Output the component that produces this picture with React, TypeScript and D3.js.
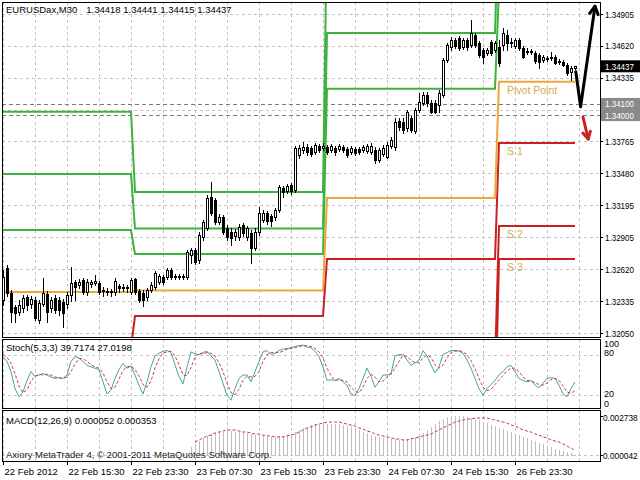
import React from "react";
import * as d3 from "d3";

const TITLE_SYMBOL = "EURUSDax,M30";
const TITLE_PRICES = "1.34418 1.34441 1.34415 1.34437";
const STOCH_TITLE = "Stoch(5,3,3) 39.7174 27.0198";
const MACD_TITLE = "MACD(12,26,9) 0.000052 0.000353";
const COPYRIGHT = "Axiory MetaTrader 4, \u00a9 2001-2011 MetaQuotes Software Corp.";

const OPEN = [1.32345,1.32631,1.32408,1.32283,1.32238,1.32274,1.32372,1.32309,1.32345,1.32166,1.32309,1.32399,1.32274,1.32363,1.32345,1.32327,1.32309,1.32390,1.32506,1.32479,1.32524,1.32417,1.32488,1.32497,1.32497,1.32435,1.32426,1.32426,1.32417,1.32470,1.32461,1.32454,1.32417,1.32533,1.32426,1.32408,1.32372,1.32435,1.32461,1.32506,1.32551,1.32551,1.32614,1.32560,1.32560,1.32551,1.32551,1.32748,1.32793,1.32703,1.32909,1.32989,1.33267,1.33240,1.33043,1.33088,1.32989,1.32954,1.32918,1.32909,1.33016,1.32909,1.32945,1.32810,1.32954,1.33061,1.33124,1.33097,1.33088,1.33151,1.33347,1.33321,1.33374,1.33330,1.33643,1.33688,1.33714,1.33705,1.33670,1.33723,1.33705,1.33714,1.33688,1.33705,1.33696,1.33714,1.33696,1.33670,1.33696,1.33696,1.33688,1.33679,1.33670,1.33688,1.33598,1.33652,1.33625,1.33723,1.33714,1.33947,1.33938,1.33884,1.33974,1.33858,1.34046,1.34108,1.34180,1.34108,1.34108,1.34090,1.34180,1.34493,1.34609,1.34672,1.34690,1.34609,1.34672,1.34627,1.34717,1.34645,1.34583,1.34556,1.34654,1.34583,1.34609,1.34627,1.34717,1.34645,1.34618,1.34672,1.34600,1.34574,1.34565,1.34556,1.34538,1.34493,1.34511,1.34520,1.34520,1.34484,1.34475,1.34448,1.34386,1.34418];
const HIGH = [1.32614,1.32658,1.32435,1.32300,1.32345,1.32390,1.32390,1.32381,1.32372,1.32345,1.32542,1.32426,1.32372,1.32390,1.32372,1.32354,1.32417,1.32640,1.32524,1.32533,1.32542,1.32533,1.32524,1.32569,1.32515,1.32461,1.32454,1.32444,1.32542,1.32488,1.32488,1.32479,1.32542,1.32542,1.32444,1.32435,1.32454,1.32506,1.32605,1.32578,1.32569,1.32631,1.32631,1.32578,1.32578,1.32578,1.32793,1.32810,1.32810,1.32954,1.33061,1.33285,1.33401,1.33258,1.33115,1.33106,1.33016,1.32989,1.32980,1.33025,1.33034,1.33007,1.32972,1.32989,1.33177,1.33151,1.33141,1.33115,1.33168,1.33374,1.33365,1.33383,1.33392,1.33723,1.33732,1.33759,1.33741,1.33723,1.33750,1.33741,1.33750,1.33732,1.33741,1.33723,1.33741,1.33732,1.33714,1.33723,1.33714,1.33714,1.33732,1.33741,1.33750,1.33714,1.33705,1.33732,1.33759,1.33804,1.33974,1.33974,1.33974,1.34046,1.33992,1.34063,1.34198,1.34207,1.34207,1.34135,1.34135,1.34225,1.34511,1.34645,1.34699,1.34690,1.34708,1.34690,1.34690,1.34851,1.34735,1.34663,1.34600,1.34600,1.34672,1.34663,1.34672,1.34779,1.34762,1.34690,1.34690,1.34690,1.34618,1.34600,1.34591,1.34574,1.34556,1.34538,1.34529,1.34565,1.34538,1.34502,1.34493,1.34466,1.34439,1.34441];
const LOW = [1.32300,1.32381,1.32148,1.32148,1.32211,1.32238,1.32256,1.32274,1.32166,1.32139,1.32291,1.32148,1.32238,1.32229,1.32211,1.32103,1.32274,1.32336,1.32345,1.32454,1.32399,1.32390,1.32461,1.32479,1.32399,1.32381,1.32390,1.32381,1.32390,1.32417,1.32426,1.32417,1.32399,1.32399,1.32327,1.32291,1.32345,1.32417,1.32444,1.32488,1.32488,1.32533,1.32533,1.32533,1.32533,1.32533,1.32533,1.32676,1.32667,1.32676,1.32882,1.32972,1.33106,1.33025,1.33025,1.32936,1.32882,1.32837,1.32882,1.32882,1.32918,1.32882,1.32676,1.32793,1.32927,1.33043,1.33025,1.33007,1.33061,1.33132,1.33267,1.33303,1.33294,1.33312,1.33616,1.33661,1.33643,1.33634,1.33652,1.33670,1.33688,1.33652,1.33670,1.33643,1.33679,1.33670,1.33625,1.33652,1.33643,1.33652,1.33670,1.33661,1.33652,1.33571,1.33580,1.33634,1.33616,1.33705,1.33688,1.33867,1.33840,1.33858,1.33849,1.33840,1.34028,1.34090,1.34081,1.34019,1.34019,1.34028,1.34162,1.34475,1.34583,1.34600,1.34583,1.34591,1.34583,1.34609,1.34609,1.34520,1.34466,1.34538,1.34538,1.34565,1.34439,1.34583,1.34583,1.34609,1.34600,1.34583,1.34511,1.34547,1.34547,1.34466,1.34421,1.34475,1.34484,1.34493,1.34457,1.34457,1.34439,1.34359,1.34314,1.34415];
const CLOSE = [1.32551,1.32408,1.32238,1.32229,1.32300,1.32363,1.32300,1.32354,1.32184,1.32318,1.32408,1.32238,1.32345,1.32256,1.32256,1.32229,1.32390,1.32497,1.32461,1.32506,1.32417,1.32506,1.32506,1.32515,1.32417,1.32426,1.32417,1.32417,1.32515,1.32454,1.32454,1.32461,1.32524,1.32417,1.32345,1.32345,1.32435,1.32479,1.32587,1.32560,1.32506,1.32614,1.32551,1.32551,1.32551,1.32560,1.32775,1.32793,1.32685,1.32927,1.33043,1.33258,1.33124,1.33043,1.33088,1.32954,1.32909,1.32900,1.32954,1.32998,1.32945,1.32989,1.32810,1.32954,1.33124,1.33124,1.33052,1.33052,1.33151,1.33356,1.33312,1.33365,1.33321,1.33705,1.33705,1.33714,1.33670,1.33652,1.33732,1.33688,1.33723,1.33670,1.33723,1.33670,1.33723,1.33688,1.33643,1.33705,1.33661,1.33670,1.33714,1.33723,1.33723,1.33598,1.33688,1.33705,1.33732,1.33777,1.33938,1.33893,1.33867,1.34028,1.33867,1.34046,1.34117,1.34180,1.34108,1.34028,1.34028,1.34198,1.34493,1.34627,1.34672,1.34618,1.34600,1.34672,1.34609,1.34735,1.34627,1.34538,1.34520,1.34583,1.34556,1.34645,1.34466,1.34735,1.34645,1.34654,1.34672,1.34600,1.34520,1.34565,1.34574,1.34484,1.34475,1.34520,1.34502,1.34511,1.34466,1.34475,1.34448,1.34377,1.34421,1.34437];

// Daily pivot levels: day start bar index and levels
const DAY_START = [0, 33, 81, 124];
const R3 = [1.34030, 1.33312, 1.35740, 1.36400];
const R2 = [1.33473, 1.32985, 1.34735, 1.35880];
const R1 = [1.32972, 1.32757, 1.34236, 1.35120];
const PP = [1.32417, 1.32430, 1.33258, 1.34299];
const S1 = [1.31916, 1.32202, 1.32712, 1.33750];
const S2 = [1.31361, 1.31875, 1.31760, 1.33007];
const S3 = [1.30860, 1.31647, 1.31210, 1.32712];

const STOCH_K = [77,70,55,30,18,25,42,55,48,50,52,50,47,45,46,45,50,70,77,75,70,64,62,60,58,40,22,28,45,58,67,60,63,50,35,22,40,62,78,82,85,86,83,65,48,37,62,84,81,80,83,85,78,72,55,38,20,13,30,45,50,50,40,55,70,84,86,80,82,86,88,89,90,92,93,94,91,90,85,77,62,42,43,42,45,40,35,22,20,30,45,60,48,32,40,50,50,52,78,80,80,72,64,68,72,86,78,65,53,62,80,83,86,86,85,82,72,60,45,30,20,30,36,42,50,55,62,64,55,45,42,40,42,35,31,38,45,46,45,35,22,18,30,39.7174];
const STOCH_D = [80,76,67,52,34,24,28,41,48,51,50,51,50,47,46,45,47,55,66,74,74,70,65,62,60,53,40,30,32,44,57,62,63,58,49,36,32,41,60,74,82,84,85,78,65,50,49,61,76,82,81,83,82,78,68,55,38,24,21,29,42,48,47,48,55,70,80,83,83,83,85,88,89,90,92,93,93,92,89,84,75,60,49,42,43,42,40,32,26,24,32,45,51,47,40,41,47,51,60,70,79,77,72,68,68,75,79,76,65,60,65,75,83,85,86,84,80,71,59,45,32,27,29,36,43,49,56,60,60,55,47,42,41,39,36,35,38,43,45,42,34,25,23,27.0198];

const MACD_START = 47;
const MACD_MAIN = [0.00059,0.00080,0.00101,0.00122,0.00136,0.00149,0.00156,0.00163,0.00163,0.00170,0.00170,0.00163,0.00163,0.00156,0.00156,0.00149,0.00142,0.00136,0.00136,0.00129,0.00129,0.00129,0.00136,0.00136,0.00142,0.00149,0.00163,0.00177,0.00191,0.00198,0.00211,0.00218,0.00218,0.00225,0.00218,0.00218,0.00218,0.00218,0.00211,0.00205,0.00198,0.00184,0.00177,0.00163,0.00156,0.00142,0.00136,0.00129,0.00122,0.00122,0.00115,0.00115,0.00108,0.00108,0.00115,0.00122,0.00129,0.00142,0.00156,0.00177,0.00198,0.00218,0.00239,0.00253,0.00267,0.002738,0.002738,0.002738,0.002738,0.00267,0.00260,0.00253,0.00246,0.00232,0.00225,0.00211,0.00205,0.00191,0.00184,0.00170,0.00163,0.00149,0.00142,0.00129,0.00122,0.00108,0.00101,0.00087,0.00080,0.00066,0.00059,0.00046,0.00039,0.00032,0.00025,0.00018,0.000052];
const SIGNAL_START = 48;
const MACD_SIGNAL = [0.00094,0.00108,0.00122,0.00136,0.00142,0.00156,0.00163,0.00170,0.00177,0.00177,0.00177,0.00170,0.00163,0.00163,0.00156,0.00149,0.00149,0.00142,0.00136,0.00136,0.00129,0.00129,0.00129,0.00136,0.00142,0.00149,0.00163,0.00177,0.00191,0.00198,0.00211,0.00218,0.00225,0.00232,0.00232,0.00232,0.00232,0.00225,0.00218,0.00211,0.00205,0.00191,0.00184,0.00170,0.00163,0.00149,0.00142,0.00136,0.00129,0.00122,0.00115,0.00115,0.00108,0.00108,0.00115,0.00122,0.00129,0.00136,0.00142,0.00149,0.00163,0.00177,0.00191,0.00205,0.00218,0.00232,0.00239,0.00246,0.00253,0.00253,0.00260,0.00260,0.00260,0.00260,0.00253,0.00246,0.00239,0.00232,0.00225,0.00211,0.00205,0.00191,0.00177,0.00170,0.00163,0.00149,0.00142,0.00129,0.00122,0.00108,0.00101,0.00094,0.00080,0.00066,0.00053,0.000353];

const PRICE_TICKS = [1.34905, 1.34620, 1.34335, 1.34050, 1.33765, 1.33480, 1.33195, 1.32905, 1.32620, 1.32335, 1.32050];
const HIDDEN_TICK = 1.34050;
const HLINES = [1.34100, 1.34000];
const LAST_PRICE = 1.34437;
const TIME_LABELS = ["22 Feb 2012", "22 Feb 15:30", "22 Feb 23:30", "23 Feb 07:30", "23 Feb 15:30", "23 Feb 23:30", "24 Feb 07:30", "24 Feb 15:30", "26 Feb 23:30"];
const STOCH_LEVELS = [80, 20];
const STOCH_LABELS = [100, 80, 20, 0];
const STOCH_LABEL_DY = [6, 1, 2, -2];
const MACD_LABELS = ["0.002738", "0.000042"];
const MACD_LABEL_VALUES = [0.002738, 0.000042];

const BLACK_ARROW = [[143.2, 1.34388], [144.4, 1.34075], [148.0, 1.34975]];
const RED_ARROW = [[145.0, 1.33983], [146.3, 1.33786]];

const LEFT = 2, RIGHT = 600;
const MAIN = { top: 2, bottom: 337 };
const STO = { top: 339, bottom: 408 };
const MAC = { top: 410, bottom: 461 };

const FONT = "'Liberation Sans', Arial, sans-serif";
const GREEN = "#3eb23e";
const ORANGE = "#eaa83a";
const RED = "#cc2020";
const LABEL_GOLD = "#d6aa55";
const GRID = "#c4c4c4";

function arrowHead(x1: number, y1: number, x2: number, y2: number, len: number) {
  const a = Math.atan2(y2 - y1, x2 - x1);
  const l = [x2 - len * Math.cos(a - 0.5), y2 - len * Math.sin(a - 0.5)];
  const r = [x2 - len * Math.cos(a + 0.5), y2 - len * Math.sin(a + 0.5)];
  return `M${l[0]},${l[1]}L${x2},${y2}L${r[0]},${r[1]}`;
}

export default function App() {
  const n = CLOSE.length;
  const x = d3.scaleLinear().domain([0, 149.25]).range([3, 600]);
  const y = d3.scaleLinear().domain([1.3205, 1.34905]).range([333, 14]);
  const ys = d3.scaleLinear().domain([0, 100]).range([409, 341]);
  const ym = d3.scaleLinear().domain([0.000042, 0.002738]).range([455, 416]);
  const idx = d3.range(n);
  const dayOf = (i: number) => {
    let d = 0;
    DAY_START.forEach((s, k) => { if (i >= s) d = k; });
    return d;
  };
  const pivotPath = (arr: number[]) =>
    d3.line<number>().x((i) => x(i)).y((i) => y(arr[dayOf(i)]))(idx) || "";
  const vgrid = d3.range(0, 145, 8).map((i) => Math.round(x(i)) + 0.5);
  const kLine = d3.line<number>().x((_, i) => x(i)).y((v) => ys(v));
  const mLine = d3.line<number>().x((_, i) => x(i + SIGNAL_START)).y((v) => ym(v));
  const arrowLine = d3.line<number[]>().x((d) => x(d[0])).y((d) => y(d[1]));
  const bA = BLACK_ARROW.map((d) => [x(d[0]), y(d[1])]);
  const rA = RED_ARROW.map((d) => [x(d[0]), y(d[1])]);
  const lastDay = DAY_START.length - 1;
  const lblX = x(DAY_START[lastDay] + 2);

  const panelGrid = (top: number, bottom: number) =>
    vgrid.map((gx, k) => (
      <line key={"vg" + top + k} x1={gx} x2={gx} y1={top} y2={bottom} stroke={GRID} strokeDasharray="3,3" />
    ));
  const priceText = () => ({ textLength: 29, lengthAdjust: "spacingAndGlyphs" as const });

  return (
    <svg width={640} height={480} style={{ position: "absolute", left: 0, top: 0, background: "#fff" }} fontFamily={FONT}>
      <defs>
        <clipPath id="mainClip"><rect x={LEFT} y={MAIN.top} width={RIGHT - LEFT} height={MAIN.bottom - MAIN.top} /></clipPath>
        <clipPath id="stoClip"><rect x={LEFT} y={STO.top} width={RIGHT - LEFT} height={STO.bottom - STO.top} /></clipPath>
        <clipPath id="macClip"><rect x={LEFT} y={MAC.top} width={RIGHT - LEFT} height={MAC.bottom - MAC.top} /></clipPath>
      </defs>
      <rect x={0} y={0} width={640} height={480} fill="#fff" />

      {/* grids */}
      <g shapeRendering="crispEdges">
        {panelGrid(MAIN.top, MAIN.bottom)}
        {PRICE_TICKS.map((p) => (
          <line key={"hg" + p} x1={LEFT} x2={RIGHT} y1={Math.round(y(p)) + 0.5} y2={Math.round(y(p)) + 0.5} stroke={GRID} strokeDasharray="3,3" />
        ))}
        {panelGrid(STO.top, STO.bottom)}
        {STOCH_LEVELS.map((v) => (
          <line key={"sl" + v} x1={LEFT} x2={RIGHT} y1={Math.round(ys(v)) + 0.5} y2={Math.round(ys(v)) + 0.5} stroke={GRID} strokeDasharray="3,3" />
        ))}
        {panelGrid(MAC.top, MAC.bottom)}
        <line x1={LEFT} x2={RIGHT} y1={Math.round(ym(0.000042)) + 0.5} y2={Math.round(ym(0.000042)) + 0.5} stroke={GRID} strokeDasharray="3,3" />
        {HLINES.map((p) => (
          <line key={"hl" + p} x1={LEFT} x2={RIGHT} y1={Math.round(y(p)) + 0.5} y2={Math.round(y(p)) + 0.5} stroke="#7a7a7a" strokeDasharray="4,3" />
        ))}
      </g>

      {/* pivot lines */}
      <g clipPath="url(#mainClip)" fill="none" strokeWidth={2}>
        {[R3, R2, R1].map((arr, k) => <path key={"r" + k} d={pivotPath(arr)} stroke={GREEN} />)}
        {[S1, S2, S3].map((arr, k) => <path key={"s" + k} d={pivotPath(arr)} stroke={RED} />)}
        <path d={pivotPath(PP)} stroke={ORANGE} />
      </g>
      <g fontSize={10.5} fill={LABEL_GOLD}>
        <text x={lblX} y={y(PP[lastDay]) + 12}>Pivot Point</text>
        <text x={lblX} y={y(S1[lastDay]) + 12}>S 1</text>
        <text x={lblX} y={y(S2[lastDay]) + 12}>S 2</text>
        <text x={lblX} y={y(S3[lastDay]) + 12}>S 3</text>
      </g>

      {/* candles */}
      <g clipPath="url(#mainClip)" shapeRendering="crispEdges">
        {idx.map((i) => {
          const cx = Math.round(x(i));
          const o = OPEN[i], c = CLOSE[i];
          const top = Math.round(y(Math.max(o, c)));
          const bot = Math.round(y(Math.min(o, c)));
          const bull = c >= o;
          return (
            <g key={"c" + i}>
              <line x1={cx + 0.5} x2={cx + 0.5} y1={Math.round(y(HIGH[i]))} y2={Math.round(y(LOW[i])) + 1} stroke="#000" />
              <rect x={cx - 0.5} y={top + 0.5} width={2} height={Math.max(bot - top, 0)} fill={bull ? "#fff" : "#000"} stroke="#000" />
            </g>
          );
        })}
      </g>

      {/* stochastic */}
      <g clipPath="url(#stoClip)" fill="none">
        <path d={kLine(STOCH_K) || ""} stroke="#4aa2a2" strokeWidth={1} />
        <path d={kLine(STOCH_D) || ""} stroke="#cc3a3a" strokeWidth={1} strokeDasharray="3,2" />
      </g>

      {/* MACD */}
      <g clipPath="url(#macClip)" shapeRendering="crispEdges">
        {MACD_MAIN.map((v, k) => {
          const bx = Math.round(x(k + MACD_START)) + 0.5;
          return <line key={"m" + k} x1={bx} x2={bx} y1={ym(0)} y2={ym(v)} stroke="#bdbdbd" />;
        })}
      </g>
      <g clipPath="url(#macClip)" fill="none">
        <path d={mLine(MACD_SIGNAL) || ""} stroke="#cc3a3a" strokeDasharray="3,2" />
      </g>

      {/* panel frames */}
      <g fill="none" stroke="#000" shapeRendering="crispEdges">
        <rect x={LEFT + 0.5} y={MAIN.top + 0.5} width={RIGHT - LEFT} height={MAIN.bottom - MAIN.top} />
        <rect x={LEFT + 0.5} y={STO.top + 0.5} width={RIGHT - LEFT} height={STO.bottom - STO.top} />
        <rect x={LEFT + 0.5} y={MAC.top + 0.5} width={RIGHT - LEFT} height={MAC.bottom - MAC.top} />
      </g>

      {/* right price axis */}
      <g fontSize={9.5} fill="#000">
        {PRICE_TICKS.filter((p) => p !== HIDDEN_TICK).map((p) => (
          <g key={"pt" + p}>
            <line x1={RIGHT} x2={RIGHT + 3} y1={Math.round(y(p)) + 0.5} y2={Math.round(y(p)) + 0.5} stroke="#000" />
            <text x={RIGHT + 5} y={y(p) + 3.5} {...priceText()}>{p.toFixed(5)}</text>
          </g>
        ))}
        {HLINES.map((p) => (
          <g key={"hb" + p}>
            <rect x={RIGHT + 1} y={y(p) - 6} width={39} height={12} fill="#8a8a8a" />
            <text x={RIGHT + 5} y={y(p) + 3.5} fill="#fff" {...priceText()}>{p.toFixed(5)}</text>
          </g>
        ))}
        <rect x={RIGHT + 1} y={y(LAST_PRICE) - 6} width={39} height={12} fill="#000" />
        <text x={RIGHT + 5} y={y(LAST_PRICE) + 3.5} fill="#fff" {...priceText()}>{LAST_PRICE.toFixed(5)}</text>

        {STOCH_LABELS.map((v, k) => (
          <text key={"sv" + v} x={RIGHT + 4} y={ys(v) + STOCH_LABEL_DY[k]} fontSize={9}>{v}</text>
        ))}
        {MACD_LABELS.map((s, k) => (
          <g key={"ml" + s}>
            <line x1={RIGHT} x2={RIGHT + 3} y1={Math.round(ym(MACD_LABEL_VALUES[k])) + 0.5} y2={Math.round(ym(MACD_LABEL_VALUES[k])) + 0.5} stroke="#000" />
            <text x={RIGHT + 3} y={ym(MACD_LABEL_VALUES[k]) + (k === 0 ? 5 : 4)} fontSize={8.3}>{s}</text>
          </g>
        ))}
      </g>

      {/* time axis */}
      <g fontSize={9.5} fill="#000">
        {TIME_LABELS.map((t, k) => {
          const tx = Math.round(x(k * 16)) + 0.5;
          return (
            <g key={"t" + k}>
              <line x1={tx} x2={tx} y1={MAC.bottom} y2={MAC.bottom + 4} stroke="#000" />
              <text x={tx + 1} y={475}>{t}</text>
            </g>
          );
        })}
      </g>

      {/* titles */}
      <g fontSize={9.5} fill="#000">
        <text x={6} y={13}>{TITLE_SYMBOL}<tspan dx={9}>{TITLE_PRICES}</tspan></text>
        <text x={6} y={351}>{STOCH_TITLE}</text>
        <text x={6} y={424}>{MACD_TITLE}</text>
        <text x={6} y={458} fill="#222">{COPYRIGHT}</text>
      </g>

      {/* annotation arrows */}
      <g fill="none" strokeLinecap="round" strokeLinejoin="round">
        <path d={arrowLine(BLACK_ARROW) || ""} stroke="#000" strokeWidth={3} />
        <path d={arrowHead(bA[1][0], bA[1][1], bA[2][0], bA[2][1], 9)} stroke="#000" strokeWidth={3} />
        <path d={arrowLine(RED_ARROW) || ""} stroke={RED} strokeWidth={3} />
        <path d={arrowHead(rA[0][0], rA[0][1], rA[1][0], rA[1][1], 8)} stroke={RED} strokeWidth={3} />
      </g>
    </svg>
  );
}
